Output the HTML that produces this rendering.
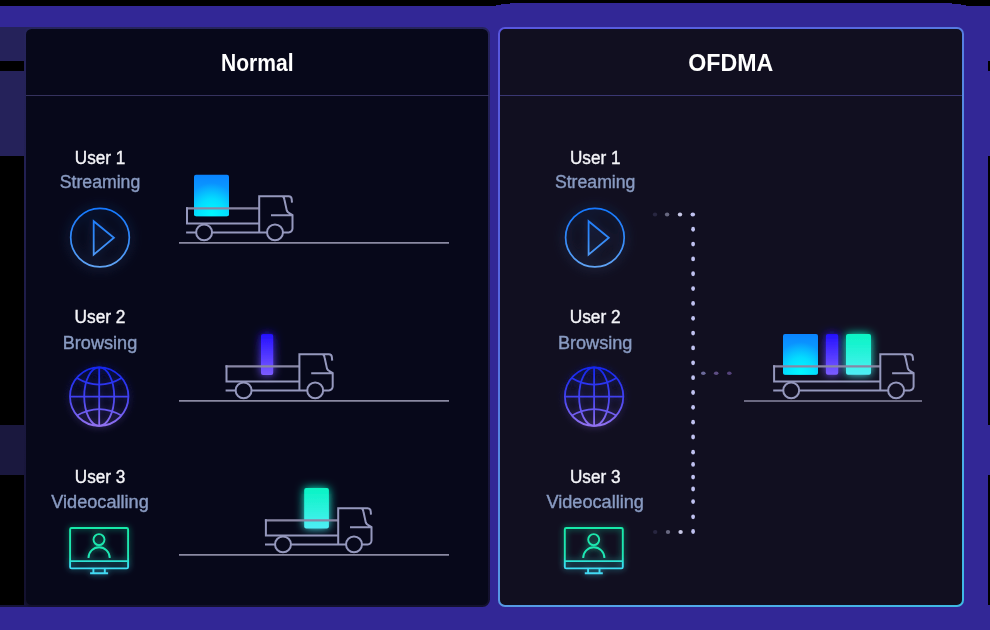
<!DOCTYPE html>
<html><head><meta charset="utf-8"><style>
html,body{margin:0;padding:0;background:#000;width:990px;height:630px;overflow:hidden}
svg{display:block;will-change:transform}
text{font-family:"Liberation Sans",sans-serif;text-anchor:middle}
.h{font-weight:bold;font-size:23.6px;fill:#ffffff}
.u{font-size:18px;fill:#f4f4f8;stroke:#f4f4f8;stroke-width:0.4px}
.s{font-size:17.5px;fill:#899bc2;stroke:#899bc2;stroke-width:0.4px}
</style></head><body>
<svg width="990" height="630" viewBox="0 0 990 630">

<defs>
  <linearGradient id="gPlay" gradientUnits="userSpaceOnUse" x1="0" y1="208" x2="0" y2="267">
    <stop offset="0" stop-color="#1478ff"/><stop offset="0.5" stop-color="#3088f8"/><stop offset="1" stop-color="#62a4f4"/>
  </linearGradient>
  <radialGradient id="gPlayIn" cx="0.5" cy="0.5" r="0.5">
    <stop offset="0" stop-color="#0c1a3e" stop-opacity="0.6"/><stop offset="0.7" stop-color="#0a1636" stop-opacity="0.3"/><stop offset="1" stop-color="#0a1636" stop-opacity="0"/>
  </radialGradient>
  <linearGradient id="gGlobe" gradientUnits="userSpaceOnUse" x1="0" y1="367" x2="0" y2="426">
    <stop offset="0" stop-color="#1226f0"/><stop offset="0.5" stop-color="#4040f0"/><stop offset="1" stop-color="#9272f0"/>
  </linearGradient>
  <linearGradient id="gMon" gradientUnits="userSpaceOnUse" x1="0" y1="527" x2="0" y2="574">
    <stop offset="0" stop-color="#18eaa8"/><stop offset="0.65" stop-color="#20e6b6"/><stop offset="0.8" stop-color="#36def0"/><stop offset="1" stop-color="#44d8f2"/>
  </linearGradient>
  <linearGradient id="gBlue" x1="0" y1="0" x2="0" y2="1">
    <stop offset="0" stop-color="#0a84ff"/><stop offset="0.5" stop-color="#0aa4ff"/><stop offset="1" stop-color="#06ccff"/>
  </linearGradient>
  <radialGradient id="gBlueR" cx="0.5" cy="0.95" r="0.75" fx="0.5" fy="0.95">
    <stop offset="0" stop-color="#00f8ff" stop-opacity="1"/><stop offset="0.5" stop-color="#00f0ff" stop-opacity="0.7"/><stop offset="1" stop-color="#00e8ff" stop-opacity="0"/>
  </radialGradient>
  <linearGradient id="gBar" x1="0" y1="0" x2="0" y2="1">
    <stop offset="0" stop-color="#2410ff"/><stop offset="1" stop-color="#7c5cff"/>
  </linearGradient>
  <linearGradient id="gTeal" x1="0" y1="0" x2="0" y2="1">
    <stop offset="0" stop-color="#08f4c4"/><stop offset="0.6" stop-color="#30f2e0"/><stop offset="1" stop-color="#50eef6"/>
  </linearGradient>
  <linearGradient id="gBorder" gradientUnits="userSpaceOnUse" x1="498" y1="27" x2="964" y2="607">
    <stop offset="0" stop-color="#5856de"/><stop offset="0.3" stop-color="#5668e0"/><stop offset="0.45" stop-color="#5688e2"/><stop offset="0.6" stop-color="#5698e4"/><stop offset="0.75" stop-color="#52a8ea"/><stop offset="1" stop-color="#3ebae4"/>
  </linearGradient>
  <linearGradient id="gLBorder" gradientUnits="userSpaceOnUse" x1="0" y1="27" x2="0" y2="607">
    <stop offset="0" stop-color="#26245c"/><stop offset="0.5" stop-color="#1e1c48"/><stop offset="1" stop-color="#13112e"/>
  </linearGradient>
  <filter id="glowB" x="-50%" y="-50%" width="200%" height="200%">
    <feGaussianBlur in="SourceGraphic" stdDeviation="6" result="b"/>
    <feComponentTransfer in="b" result="b2"><feFuncA type="linear" slope="0.55"/></feComponentTransfer>
    <feMerge><feMergeNode in="b2"/><feMergeNode in="SourceGraphic"/></feMerge>
  </filter>
  <filter id="glowP" x="-50%" y="-50%" width="200%" height="200%">
    <feGaussianBlur in="SourceGraphic" stdDeviation="3.5" result="b"/>
    <feComponentTransfer in="b" result="b2"><feFuncA type="linear" slope="0.5"/></feComponentTransfer>
    <feMerge><feMergeNode in="b2"/><feMergeNode in="SourceGraphic"/></feMerge>
  </filter>
  <filter id="glowT" x="-50%" y="-50%" width="200%" height="200%">
    <feGaussianBlur in="SourceGraphic" stdDeviation="3" result="b"/>
    <feComponentTransfer in="b" result="b2"><feFuncA type="linear" slope="0.7"/></feComponentTransfer>
    <feMerge><feMergeNode in="b2"/><feMergeNode in="SourceGraphic"/></feMerge>
  </filter>
  <filter id="glowBox" x="-100%" y="-100%" width="300%" height="300%">
    <feGaussianBlur in="SourceGraphic" stdDeviation="5" result="b"/>
    <feComponentTransfer in="b" result="b2"><feFuncA type="linear" slope="1.0"/></feComponentTransfer>
    <feMerge><feMergeNode in="b2"/><feMergeNode in="SourceGraphic"/></feMerge>
  </filter>
</defs>


<rect x="0" y="0" width="990" height="630" fill="#000"/>
<rect x="0" y="6" width="496" height="624" fill="#322796"/>
<rect x="496" y="5" width="5" height="625" fill="#322796"/>
<rect x="501" y="4" width="9" height="626" fill="#322796"/>
<rect x="510" y="3" width="442" height="627" fill="#322796"/>
<rect x="952" y="4" width="9" height="626" fill="#322796"/>
<rect x="961" y="5" width="5" height="625" fill="#322796"/>
<rect x="966" y="6" width="24" height="624" fill="#322796"/>
<rect x="0" y="27" width="26" height="34" fill="#25225a"/>
<rect x="0" y="61" width="24" height="10" fill="#000"/>
<rect x="24" y="61" width="2" height="10" fill="#25225a"/>
<rect x="0" y="71" width="26" height="85" fill="#25225a"/>
<rect x="0" y="156" width="24" height="269" fill="#000"/>
<rect x="0" y="425" width="26" height="50" fill="#1a183e"/>
<rect x="0" y="475" width="24" height="130" fill="#000"/>
<rect x="0" y="605" width="26" height="2" fill="#15133a"/>
<rect x="24" y="590" width="12" height="17" fill="#15133a"/>
<rect x="24" y="27" width="12" height="12" fill="#25225a"/>
<rect x="988" y="61" width="2" height="10" fill="#000"/>
<rect x="988" y="156" width="2" height="269" fill="#000"/>
<rect x="988" y="475" width="2" height="130" fill="#000"/>


<rect x="25" y="28" width="464" height="578" rx="6.5" fill="#07081a" stroke="url(#gLBorder)" stroke-width="2"/>
<path d="M26 95.5H489" stroke="#35325e" stroke-width="1"/>
<rect x="499" y="28" width="464" height="578" rx="6" fill="#110f20" stroke="url(#gBorder)" stroke-width="2"/>
<path d="M500 95.5H962" stroke="#3a3772" stroke-width="1"/>


<text x="257.3" y="71.3" class="h" textLength="72.5" lengthAdjust="spacingAndGlyphs">Normal</text>
<text x="730.8" y="71.3" class="h" textLength="85" lengthAdjust="spacingAndGlyphs">OFDMA</text>

<text x="100" y="163.8" class="u" textLength="50.5" lengthAdjust="spacingAndGlyphs">User 1</text><text x="100" y="188" class="s" textLength="80.5" lengthAdjust="spacingAndGlyphs">Streaming</text><text x="100" y="323.2" class="u" textLength="51" lengthAdjust="spacingAndGlyphs">User 2</text><text x="100" y="349.2" class="s" textLength="74.5" lengthAdjust="spacingAndGlyphs">Browsing</text><text x="100" y="482.8" class="u" textLength="50.5" lengthAdjust="spacingAndGlyphs">User 3</text><text x="100" y="507.9" class="s" textLength="97.5" lengthAdjust="spacingAndGlyphs">Videocalling</text>
<text x="595.2" y="163.8" class="u" textLength="50.5" lengthAdjust="spacingAndGlyphs">User 1</text><text x="595.2" y="188" class="s" textLength="80.5" lengthAdjust="spacingAndGlyphs">Streaming</text><text x="595.2" y="323.2" class="u" textLength="51" lengthAdjust="spacingAndGlyphs">User 2</text><text x="595.2" y="349.2" class="s" textLength="74.5" lengthAdjust="spacingAndGlyphs">Browsing</text><text x="595.2" y="482.8" class="u" textLength="50.5" lengthAdjust="spacingAndGlyphs">User 3</text><text x="595.2" y="507.9" class="s" textLength="97.5" lengthAdjust="spacingAndGlyphs">Videocalling</text>
<g filter="url(#glowB)"><circle cx="100" cy="237.6" r="29.3" fill="none" stroke="url(#gPlay)" stroke-width="1.7"/><path d="M93.7 221.2V254.6L113.9 237.8Z" fill="none" stroke="url(#gPlay)" stroke-width="1.8" stroke-linejoin="miter"/></g>
<g filter="url(#glowB)"><circle cx="594.9" cy="237.6" r="29.3" fill="none" stroke="url(#gPlay)" stroke-width="1.7"/><path d="M588.6 221.2V254.6L608.8 237.8Z" fill="none" stroke="url(#gPlay)" stroke-width="1.8" stroke-linejoin="miter"/></g>
<g filter="url(#glowP)" fill="none" stroke="url(#gGlobe)" stroke-width="1.8"><circle cx="99.2" cy="396.6" r="29.2"/><path d="M99.2 367.4V425.8M70 396.6H128.4"/><ellipse cx="99.2" cy="396.6" rx="15" ry="29.2"/><path d="M76.8 378Q99.2 391.2 121.6 378"/><path d="M76.6 415.7Q99.2 402.4 121.8 415.7"/></g>
<g filter="url(#glowP)" fill="none" stroke="url(#gGlobe)" stroke-width="1.8"><circle cx="594.1" cy="396.6" r="29.2"/><path d="M594.1 367.4V425.8M564.9 396.6H623.3"/><ellipse cx="594.1" cy="396.6" rx="15" ry="29.2"/><path d="M571.7 378Q594.1 391.2 616.5 378"/><path d="M571.5 415.7Q594.1 402.4 616.7 415.7"/></g>
<g filter="url(#glowT)" fill="none" stroke="url(#gMon)" stroke-width="1.9"><rect x="70.1" y="528" width="58" height="40.4" rx="1.5"/><path d="M70.1 561.1H128.1"/><path d="M93.4 569V573.3M104.8 569V573.3M90.1 573.3H108.1"/><circle cx="99" cy="539.6" r="5.5"/><path d="M88.5 557.9A10.6 10.6 0 0 1 109.7 557.9"/></g>
<g filter="url(#glowT)" fill="none" stroke="url(#gMon)" stroke-width="1.9"><rect x="564.8" y="528" width="58" height="40.4" rx="1.5"/><path d="M564.8 561.1H622.8"/><path d="M588.1 569V573.3M599.5 569V573.3M584.8 573.3H602.8"/><circle cx="593.7" cy="539.6" r="5.5"/><path d="M583.2 557.9A10.6 10.6 0 0 1 604.4 557.9"/></g>

<rect x="194" y="174.7" width="35" height="41.5" rx="2" fill="url(#gBlue)"/><rect x="194" y="174.7" width="35" height="41.5" rx="2" fill="url(#gBlueR)"/>
<rect x="261" y="334" width="12.2" height="41" rx="2" fill="url(#gBar)" filter="url(#glowBox)"/>
<rect x="304.2" y="488.1" width="24.7" height="40.4" rx="2" fill="url(#gTeal)" filter="url(#glowBox)"/>

<path d="M186 208.3H259.2" stroke="#8886a4" stroke-width="2.3"/><path d="M187 207.3V223.6H259.2M186.1 232.4H196.15M212.05 232.4H267.05M259.2 233.4V196.3H288.6A3.2 3.2 0 0 1 291.7 199.3L292 202.6M281.8 196.3Q283.8 196.3 284.4 199.5L286.8 210.6Q287.4 212.3 289.3 213.1L292.5 215V228.6A3.8 3.8 0 0 1 288.7 232.4H282.95M271 215.2H292.5" fill="none" stroke="#9598bd" stroke-width="2.0" stroke-linecap="butt"/><circle cx="204.1" cy="232.4" r="7.95" fill="none" stroke="#9598bd" stroke-width="2.0"/><circle cx="275" cy="232.4" r="7.95" fill="none" stroke="#9598bd" stroke-width="2.0"/>
<path d="M179 242.9H449" stroke="#8a89a2" stroke-width="1.7"/>
<path d="M225.5 366.3H299.4" stroke="#8886a4" stroke-width="2.3"/><path d="M226.5 365.3V381.6H299.4M225.6 390.4H235.65M251.55 390.4H307.25M299.4 391.4V354.3H328.8A3.2 3.2 0 0 1 331.9 357.3L332.2 360.6M322 354.3Q324 354.3 324.6 357.5L327 368.6Q327.6 370.3 329.5 371.1L332.7 373V386.6A3.8 3.8 0 0 1 328.9 390.4H323.15M311.2 373.2H332.7" fill="none" stroke="#9598bd" stroke-width="2.0" stroke-linecap="butt"/><circle cx="243.6" cy="390.4" r="7.95" fill="none" stroke="#9598bd" stroke-width="2.0"/><circle cx="315.2" cy="390.4" r="7.95" fill="none" stroke="#9598bd" stroke-width="2.0"/>
<path d="M179 400.8H449" stroke="#8a89a2" stroke-width="1.7"/>
<path d="M264.9 520.3H338.2" stroke="#8886a4" stroke-width="2.3"/><path d="M265.9 519.3V535.6H338.2M265 544.4H275.05M290.95 544.4H346.05M338.2 545.4V508.3H367.6A3.2 3.2 0 0 1 370.7 511.3L371 514.6M360.8 508.3Q362.8 508.3 363.4 511.5L365.8 522.6Q366.4 524.3 368.3 525.1L371.5 527V540.6A3.8 3.8 0 0 1 367.7 544.4H361.95M350 527.2H371.5" fill="none" stroke="#9598bd" stroke-width="2.0" stroke-linecap="butt"/><circle cx="283" cy="544.4" r="7.95" fill="none" stroke="#9598bd" stroke-width="2.0"/><circle cx="354" cy="544.4" r="7.95" fill="none" stroke="#9598bd" stroke-width="2.0"/>
<path d="M179 554.9H449" stroke="#8a89a2" stroke-width="1.7"/>

<rect x="783" y="333.9" width="35" height="40.8" rx="2" fill="url(#gBlue)"/><rect x="783" y="333.9" width="35" height="40.8" rx="2" fill="url(#gBlueR)"/>
<rect x="825.9" y="333.9" width="12.3" height="40.8" rx="2" fill="url(#gBar)" filter="url(#glowBox)"/>
<rect x="846" y="333.9" width="25" height="40.8" rx="2" fill="url(#gTeal)" filter="url(#glowBox)"/>

<path d="M773.1 366.3H880.3" stroke="#8886a4" stroke-width="2.3"/><path d="M774.1 365.3V381.6H880.3M773.2 390.4H783.25M799.15 390.4H888.15M880.3 391.4V354.3H909.7A3.2 3.2 0 0 1 912.8 357.3L913.1 360.6M902.9 354.3Q904.9 354.3 905.5 357.5L907.9 368.6Q908.5 370.3 910.4 371.1L913.6 373V386.6A3.8 3.8 0 0 1 909.8 390.4H904.05M892.1 373.2H913.6" fill="none" stroke="#9598bd" stroke-width="2.0" stroke-linecap="butt"/><circle cx="791.2" cy="390.4" r="7.95" fill="none" stroke="#9598bd" stroke-width="2.0"/><circle cx="896.1" cy="390.4" r="7.95" fill="none" stroke="#9598bd" stroke-width="2.0"/>
<path d="M744 401H922" stroke="#8a89a2" stroke-width="1.7"/>
<ellipse cx="692.8" cy="214.5" rx="2.3" ry="1.9" fill="#c0c2f0"/><ellipse cx="693.1" cy="229.24" rx="1.9" ry="2.4" fill="#c0c2f0"/><ellipse cx="693.1" cy="244.08" rx="1.9" ry="2.4" fill="#c0c2f0"/><ellipse cx="693.1" cy="258.92" rx="1.9" ry="2.4" fill="#c0c2f0"/><ellipse cx="693.1" cy="273.76" rx="1.9" ry="2.4" fill="#c0c2f0"/><ellipse cx="693.1" cy="288.6" rx="1.9" ry="2.4" fill="#c0c2f0"/><ellipse cx="693.1" cy="303.44" rx="1.9" ry="2.4" fill="#c0c2f0"/><ellipse cx="693.1" cy="318.28" rx="1.9" ry="2.4" fill="#c0c2f0"/><ellipse cx="693.1" cy="333.12" rx="1.9" ry="2.4" fill="#c0c2f0"/><ellipse cx="693.1" cy="347.96" rx="1.9" ry="2.4" fill="#c0c2f0"/><ellipse cx="693.1" cy="362.8" rx="1.9" ry="2.4" fill="#c0c2f0"/><ellipse cx="693.1" cy="377.64" rx="1.9" ry="2.4" fill="#c0c2f0"/><ellipse cx="693.1" cy="392.48" rx="1.9" ry="2.4" fill="#c0c2f0"/><ellipse cx="693.1" cy="407.32" rx="1.9" ry="2.4" fill="#c0c2f0"/><ellipse cx="693.1" cy="422.16" rx="1.9" ry="2.4" fill="#c0c2f0"/><ellipse cx="693.1" cy="437" rx="1.9" ry="2.4" fill="#c0c2f0"/><ellipse cx="693.1" cy="452.2" rx="1.9" ry="2.4" fill="#c0c2f0"/><ellipse cx="693.1" cy="464.4" rx="1.9" ry="2.4" fill="#c0c2f0"/><ellipse cx="693.1" cy="477.1" rx="1.9" ry="2.4" fill="#c0c2f0"/><ellipse cx="693.1" cy="489" rx="1.9" ry="2.4" fill="#c0c2f0"/><ellipse cx="693.1" cy="501.6" rx="1.9" ry="2.4" fill="#c0c2f0"/><ellipse cx="693.1" cy="516.8" rx="1.9" ry="2.4" fill="#c0c2f0"/><ellipse cx="693.1" cy="531.5" rx="1.9" ry="2.4" fill="#c0c2f0"/><ellipse cx="655" cy="214.4" rx="2.2" ry="2" fill="#282640"/><ellipse cx="667.1" cy="214.4" rx="2.2" ry="2" fill="#686880"/><ellipse cx="680" cy="214.4" rx="2.2" ry="2" fill="#c8c8e6"/><ellipse cx="655.2" cy="532" rx="2.2" ry="2" fill="#282640"/><ellipse cx="668" cy="532" rx="2.2" ry="2" fill="#686880"/><ellipse cx="680.6" cy="532" rx="2.2" ry="2" fill="#c8c8e6"/><ellipse cx="703.3" cy="373.3" rx="2.3" ry="1.8" fill="#6c6a9a"/><ellipse cx="716.2" cy="373.3" rx="2.3" ry="1.8" fill="#5e4e84"/><ellipse cx="729.3" cy="373.3" rx="2.3" ry="1.8" fill="#54427a"/>
</svg>
</body></html>
